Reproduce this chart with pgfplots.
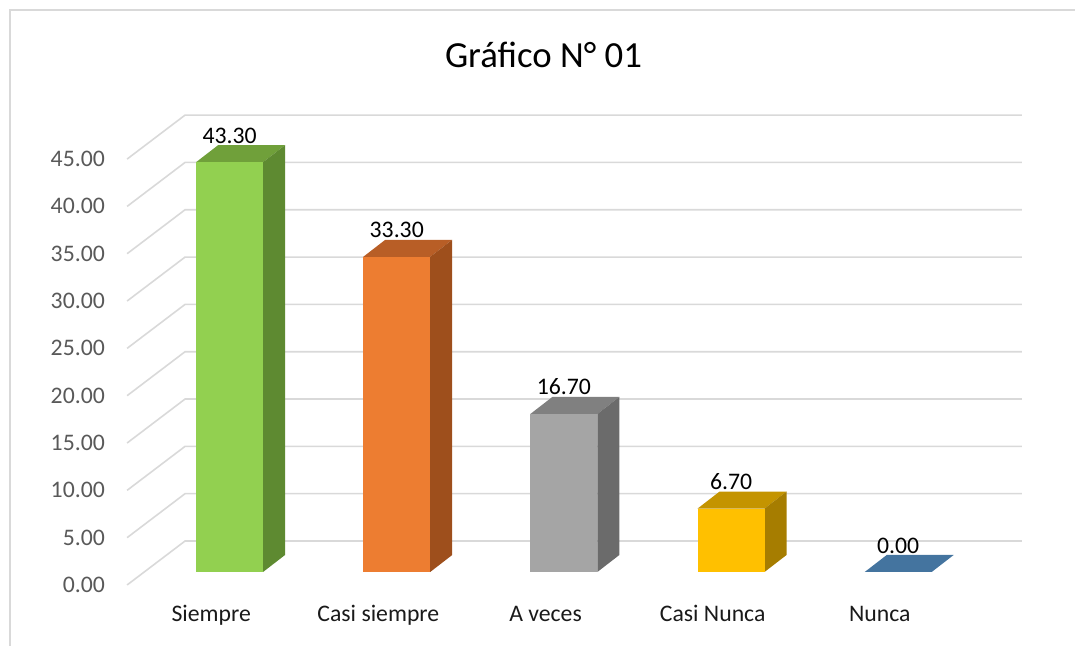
\documentclass[border=0pt]{standalone}
\usepackage{pgfplots}
\pgfplotsset{compat=1.18}
\usepackage{fontspec}
\setmainfont{Carlito}

\definecolor{gridc}{HTML}{D9D9D9}
\definecolor{tickc}{HTML}{595959}
\definecolor{catc}{HTML}{1A1A1A}
\definecolor{gFront}{HTML}{92D050}
\definecolor{gTop}{HTML}{70A03A}
\definecolor{gSide}{HTML}{5E8A31}
\definecolor{oFront}{HTML}{ED7D31}
\definecolor{oTop}{HTML}{B85E26}
\definecolor{oSide}{HTML}{9E4F1C}
\definecolor{aFront}{HTML}{A5A5A5}
\definecolor{aTop}{HTML}{808080}
\definecolor{aSide}{HTML}{6B6B6B}
\definecolor{yFront}{HTML}{FFC000}
\definecolor{yTop}{HTML}{C49400}
\definecolor{ySide}{HTML}{A67D00}
\definecolor{bTop}{HTML}{44749F}

\newcommand{\lblfont}{\fontsize{17.8}{21}\selectfont}

\begin{document}
\begin{tikzpicture}
\begin{axis}[
    x=125.4pt, y=7.1pt,
    xmin=-1.3726, xmax=5.0568,
    ymin=-7.817, ymax=60.42,
    axis line style={draw=none},
    major tick length=0pt,
    ytick={-1.373,3.627,8.627,13.627,18.627,23.627,28.627,33.627,38.627,43.627},
    yticklabels={0.00,5.00,10.00,15.00,20.00,25.00,30.00,35.00,40.00,45.00},
    yticklabel style={font=\lblfont, text=tickc, anchor=east, inner sep=0pt, xshift=78.75pt},
    xtick={-0.11,0.89,1.89,2.89,3.89},
    xticklabels={Siempre,Casi siempre,A veces,Casi Nunca,Nunca},
    xticklabel style={font=\lblfont, text=catc, anchor=base, inner sep=0pt, yshift=18pt},
    /pgf/number format/assume math mode=true,
    /pgf/number format/fixed,
    /pgf/number format/fixed zerofill,
    /pgf/number format/precision=2,
]
% frame (left and top edges only)
\draw[gridc, line width=1.5pt] (axis cs:-1.3128,-7.817) -- (axis cs:-1.3128,59.366) -- (axis cs:5.0568,59.366);

% gridlines: front edge, diagonal to back wall, back wall line
\addplot[gridc, line width=1.2pt] coordinates {(-0.613,-1.373) (-0.2662,3.274) (4.74,3.274)};
\addplot[gridc, line width=1.2pt] coordinates {(-0.613,3.627) (-0.2662,8.274) (4.74,8.274)};
\addplot[gridc, line width=1.2pt] coordinates {(-0.613,8.627) (-0.2662,13.274) (4.74,13.274)};
\addplot[gridc, line width=1.2pt] coordinates {(-0.613,13.627) (-0.2662,18.274) (4.74,18.274)};
\addplot[gridc, line width=1.2pt] coordinates {(-0.613,18.627) (-0.2662,23.274) (4.74,23.274)};
\addplot[gridc, line width=1.2pt] coordinates {(-0.613,23.627) (-0.2662,28.274) (4.74,28.274)};
\addplot[gridc, line width=1.2pt] coordinates {(-0.613,28.627) (-0.2662,33.274) (4.74,33.274)};
\addplot[gridc, line width=1.2pt] coordinates {(-0.613,33.627) (-0.2662,38.274) (4.74,38.274)};
\addplot[gridc, line width=1.2pt] coordinates {(-0.613,38.627) (-0.2662,43.274) (4.74,43.274)};
\addplot[gridc, line width=1.2pt] coordinates {(-0.613,43.627) (-0.2662,48.274) (4.74,48.274)};

% top and side faces of the columns
\addplot[fill=gTop, draw=none] coordinates {(-0.2003,43.3) (0.2003,43.3) (0.3319,45.096) (-0.0687,45.096)};
\addplot[fill=gSide, draw=none] coordinates {(0.2003,0) (0.3319,1.796) (0.3319,45.096) (0.2003,43.3)};
\addplot[fill=oTop, draw=none] coordinates {(0.7997,33.3) (1.2003,33.3) (1.3319,35.096) (0.9313,35.096)};
\addplot[fill=oSide, draw=none] coordinates {(1.2003,0) (1.3319,1.796) (1.3319,35.096) (1.2003,33.3)};
\addplot[fill=aTop, draw=none] coordinates {(1.7997,16.7) (2.2003,16.7) (2.3319,18.496) (1.9313,18.496)};
\addplot[fill=aSide, draw=none] coordinates {(2.2003,0) (2.3319,1.796) (2.3319,18.496) (2.2003,16.7)};
\addplot[fill=yTop, draw=none] coordinates {(2.7997,6.7) (3.2003,6.7) (3.3319,8.496) (2.9313,8.496)};
\addplot[fill=ySide, draw=none] coordinates {(3.2003,0) (3.3319,1.796) (3.3319,8.496) (3.2003,6.7)};
\addplot[fill=bTop, draw=none] coordinates {(3.7997,0) (4.2003,0) (4.3319,1.796) (3.9313,1.796)};

% front faces with data labels
\pgfplotsset{frontbar/.style={ybar, bar width=0.4006, bar shift=0pt, draw=none,
    nodes near coords,
    every node near coord/.append style={font=\lblfont, text=black, inner sep=0pt, yshift=13.9pt}}}
\addplot[frontbar, fill=gFront] coordinates {(0,43.3)};
\addplot[frontbar, fill=oFront] coordinates {(1,33.3)};
\addplot[frontbar, fill=aFront] coordinates {(2,16.7)};
\addplot[frontbar, fill=yFront] coordinates {(3,6.7)};
\addplot[frontbar, fill=none] coordinates {(4,0)};

% title
\node[font=\fontsize{27.6}{32}\selectfont, anchor=base] at (axis cs:1.878,53.34) {Gráfico N° 01};
\end{axis}
\end{tikzpicture}
\end{document}
